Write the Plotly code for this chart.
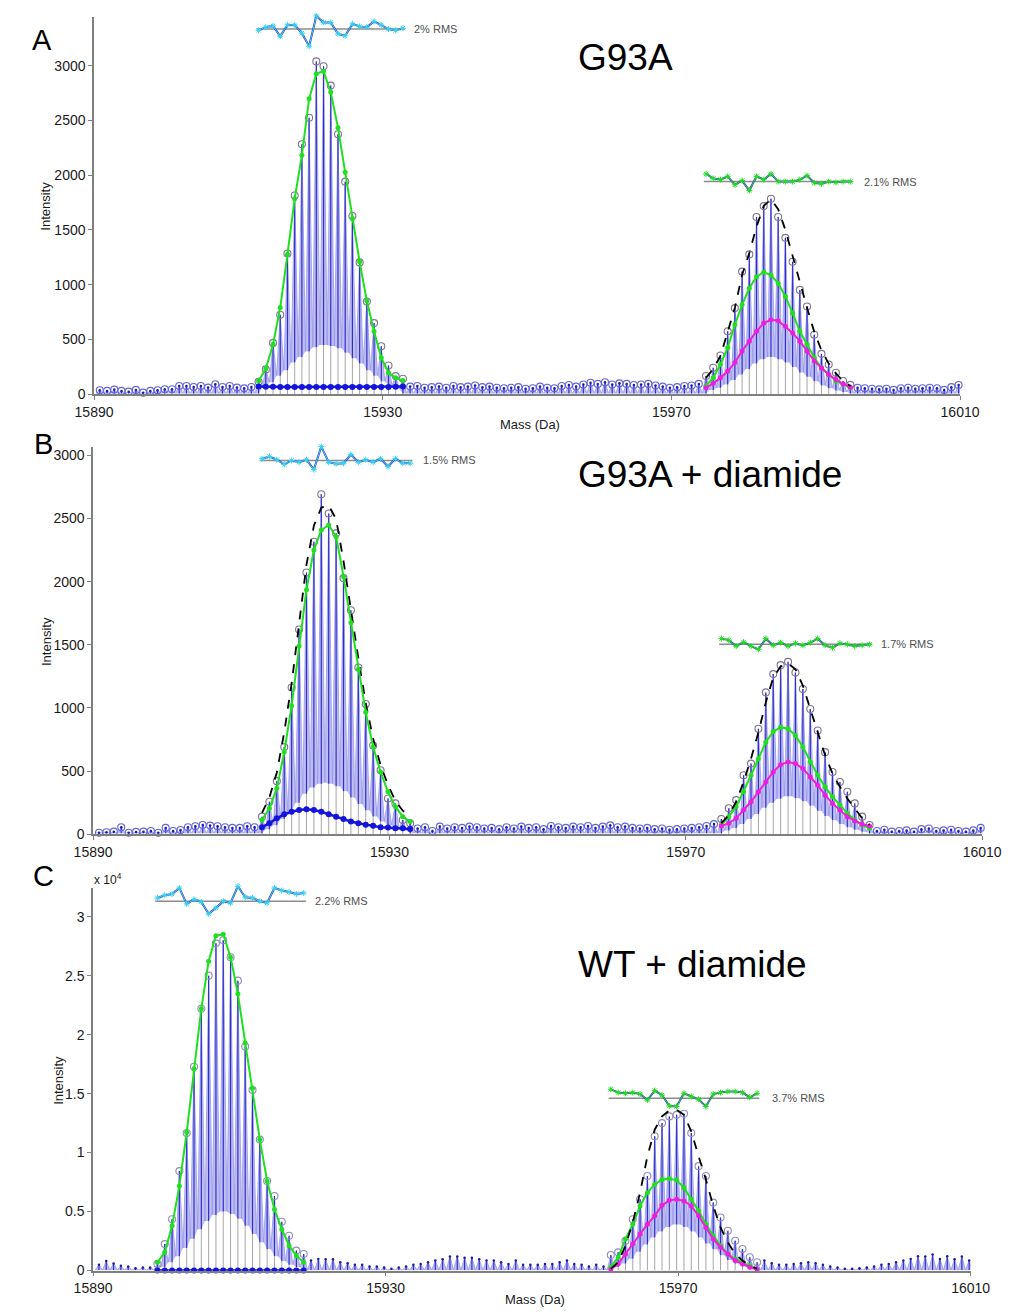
import numpy as np
import plotly.graph_objects as go

W, H = 1032, 1315
FONT = "Liberation Sans, Arial, Helvetica, sans-serif"

# ---------------- shared grid / ticks ----------------
MASS_START = 15890.8          # first isotope peak of the 1-Da grid
X_TICKS = [15890, 15930, 15970, 16010]
AB_Y_TICKS = [0, 500, 1000, 1500, 2000, 2500, 3000]
C_Y_TICKS = [0, 5000, 10000, 15000, 20000, 25000, 30000]
C_Y_TICKTEXT = ["0", "0.5", "1", "1.5", "2", "2.5", "3"]

# ---------------- Panel A : G93A ----------------
A_BASE_LEFT = [37, 31, 43, 31, 24, 40, 15, 31, 37, 46, 46, 76, 76, 67, 76, 61, 91, 67, 76, 61, 54, 67]
A_C1_OBS = [115, 227, 469, 726, 1285, 1814, 2283, 2525, 3039, 2994, 2818, 2374, 1941, 1627, 1204, 847, 650, 438, 263, 166, 142]
A_C1_TROUGH = [60, 110, 170, 220, 290, 340, 390, 430, 450, 450, 440, 420, 380, 330, 280, 220, 170, 120, 80, 50]
A_BASE_MID = [70, 75, 60, 65, 70, 60, 75, 65, 70, 80, 65, 70, 60, 55, 60, 65, 50, 55, 70, 60, 55, 75, 85, 70, 90,
              105, 95, 110, 90, 100, 95, 85, 90, 95, 80, 70, 60, 65, 75, 80, 95]
A_C2_OBS = [167, 242, 354, 575, 787, 1120, 1277, 1619, 1718, 1785, 1619, 1428, 1210, 953, 802, 544, 369, 272, 197, 122, 86]
A_C2_TROUGH = [40, 60, 90, 130, 180, 230, 280, 320, 340, 340, 320, 290, 250, 200, 160, 120, 80, 55, 35, 20]
A_BASE_RIGHT = [60, 55, 50, 45, 50, 40, 55, 60, 50, 55, 60, 55, 40, 65, 85]
A_BASE_TROUGH = 8
A_C1_GREEN = [121, 233, 454, 792, 1276, 1784, 2183, 2697, 2927, 2948, 2757, 2434, 2026, 1603, 1210, 853, 575, 333, 197, 151, 127]
A_C1_BLUE = [70, 68, 68, 67, 67, 67, 67, 67, 67, 67, 67, 67, 67, 67, 67, 67, 67, 67, 67, 68, 70]
A_C2_GREEN = [76, 151, 272, 424, 635, 817, 968, 1074, 1113, 1089, 1013, 893, 741, 575, 454, 333, 242, 181, 122, 91, 61]
A_C2_MAGENTA = [60, 100, 150, 210, 290, 395, 485, 575, 650, 680, 672, 620, 560, 485, 395, 305, 240, 180, 135, 95, 65]
A_C2_TOTAL = [150, 230, 350, 560, 790, 1090, 1290, 1530, 1720, 1780, 1690, 1500, 1260, 1010, 790, 570, 400, 280, 190, 120, 76]
A_C1_RESID = [-0.5, 0.8, 1.3, -2.9, 1.7, 1.7, -1.6, -6.9, 5.3, 2.7, 2.7, -1.9, -2.7, 2.1, 1.1, 0.8, 3.1, 1.7, 0.0, -0.5, 0.4]
A_C2_RESID = [3.1, 1.3, 0.8, 2.1, -1.3, 0.4, -3.6, 2.1, 0.8, 3.1, 0.0, 0.0, 0.0, 0.8, 2.4, -0.5, -0.9, 0.0, -0.3, 0.0, 0.0]

# ---------------- Panel B : G93A + diamide ----------------
B_BASE_LEFT = [12, 15, 20, 55, 12, 18, 20, 25, 12, 50, 25, 33, 55, 63, 73, 68, 63, 55, 50, 50, 63, 55]
B_C1_OBS = [139, 257, 420, 690, 1162, 1622, 2073, 2317, 2693, 2540, 2383, 2028, 1774, 1320, 1031, 703, 506, 283, 244, 113, 87]
B_C1_TROUGH = [40, 70, 120, 180, 250, 320, 370, 400, 410, 400, 380, 340, 290, 240, 190, 140, 100, 70, 45, 30]
B_BASE_MID = [45, 55, 25, 60, 45, 55, 50, 60, 55, 45, 50, 40, 55, 45, 60, 50, 55, 40, 65, 55, 50, 60, 55, 65, 50,
              60, 70, 55, 60, 50, 45, 50, 40, 45, 35, 40, 45, 50, 55, 65, 80]
B_C2_OBS = [120, 205, 270, 467, 559, 835, 1123, 1268, 1339, 1365, 1280, 1150, 992, 821, 650, 493, 414, 336, 244, 139, 73]
B_C2_TROUGH = [30, 50, 80, 120, 160, 210, 250, 280, 300, 300, 285, 260, 225, 185, 145, 110, 80, 55, 35, 20]
B_BASE_RIGHT = [25, 35, 20, 25, 30, 20, 40, 45, 25, 30, 35, 25, 20, 30, 50]
B_BASE_TROUGH = 8
B_C1_GREEN = [113, 205, 363, 651, 1018, 1491, 1937, 2252, 2409, 2449, 2357, 2042, 1674, 1307, 966, 690, 493, 336, 218, 139, 100]
B_C1_BLUE = [55, 87, 126, 157, 178, 191, 197, 191, 178, 157, 139, 121, 100, 87, 74, 66, 55, 53, 47, 47, 42]
B_C1_TOTAL = [168, 292, 489, 808, 1196, 1682, 2134, 2443, 2587, 2606, 2496, 2163, 1774, 1394, 1040, 756, 548, 389, 265, 186, 142]
B_C2_GREEN = [73, 139, 218, 336, 467, 598, 729, 813, 847, 835, 782, 690, 572, 467, 375, 296, 231, 165, 113, 73, 47]
B_C2_MAGENTA = [65, 87, 126, 191, 257, 336, 414, 493, 551, 572, 559, 520, 454, 388, 309, 244, 191, 139, 105, 79, 65]
B_C2_TOTAL = [87, 152, 257, 414, 598, 808, 1044, 1241, 1328, 1354, 1307, 1176, 992, 808, 625, 480, 375, 283, 205, 126, 73]
B_C1_RESID = [0.7, 1.6, 0.3, -1.6, 0.0, -0.7, 0.3, -3.7, 5.6, -0.7, -1.3, -1.1, 2.4, -0.7, 0.3, -0.7, 0.7, -2.4, 0.7, -1.1, -1.1]
B_C2_RESID = [2.3, 1.7, -0.7, 0.9, -0.7, -2.0, 2.3, -0.4, 0.7, -0.7, 0.4, -0.4, 0.7, 2.3, -0.4, -1.3, 0.4, 0.0, -0.7, -0.4, 0.0]

# ---------------- Panel C : WT + diamide ----------------
C_BASE_LEFT = [500, 800, 600, 400, 350, 200, 250, 250]
C_C1_OBS = [560, 2240, 4350, 8430, 11660, 17280, 22200, 25000, 27740, 28000, 26560, 24580, 19000, 15310, 11100,
            7590, 6320, 4130, 2950, 1690, 1400]
C_C1_TROUGH = [300, 700, 1200, 1900, 2700, 3500, 4200, 4700, 5000, 5000, 4800, 4400, 3800, 3100, 2400, 1800, 1200, 800, 500, 300]
C_BASE_MID = [840, 980, 950, 950, 700, 620, 490, 490, 340, 340, 250, 150, 250, 340, 490, 560, 700, 840, 950, 1180,
              1180, 1090, 1090, 950, 840, 840, 700, 560, 840, 490, 490, 490, 560, 560, 700, 840, 560, 490, 340, 490, 340]
C_C2_OBS = [1320, 1540, 2530, 4350, 6040, 8010, 11380, 12500, 13070, 13200, 13290, 11660, 8850, 8010, 5760, 4490,
            3370, 2530, 1820, 1120, 700]
C_C2_TROUGH = [300, 600, 1000, 1600, 2200, 2800, 3300, 3700, 3900, 3900, 3700, 3300, 2800, 2300, 1800, 1300, 900, 600, 350, 200]
C_BASE_RIGHT = [840, 620, 490, 490, 560, 620, 700, 620, 490, 340, 250, 150, 150, 200, 250, 340, 490, 560, 700, 840,
                980, 1200, 1180, 1350, 980, 1200, 950, 1180, 840]
C_BASE_TROUGH = 40
C_C1_GREEN = [700, 1540, 3790, 7170, 11720, 17110, 22200, 26220, 28380, 28520, 26560, 23460, 19300, 15450, 11100,
              7590, 5200, 3510, 2110, 1260, 700]
C_C1_BLUE = [0, 0, 0, 0, 0, 0, 0, 0, 0, 0, 0, 0, 0, 0, 0, 0, 0, 0, 0, 0, 0]
C_C2_GREEN = [280, 1120, 2670, 3930, 5480, 6600, 7300, 7720, 7780, 7670, 7020, 6040, 5060, 3930, 2950, 2110, 1400, 980, 700, 420, 84]
C_C2_MAGENTA = [84, 560, 1400, 2240, 3090, 3930, 4640, 5530, 5950, 6040, 5900, 5480, 4640, 3650, 2670, 1970, 1400, 840, 560, 280, 84]
C_C2_TOTAL = [140, 700, 2110, 4070, 6600, 9690, 11940, 13070, 13570, 13630, 13200, 11800, 9690, 7720, 5480, 3650,
              2390, 1400, 840, 420, 140]
C_C1_RESID = [1.3, 2.4, 2.9, 5.3, -1.1, 0.7, -0.3, -5.1, -2.7, 0.0, -0.7, 6.0, 1.6, 1.3, 0.0, -0.7, 5.3, 4.3, 3.7, 2.9, 3.3]
C_C2_RESID = [3.6, 2.3, 2.0, 2.3, 1.7, -0.7, 3.1, 1.3, -3.1, -3.3, 2.0, 0.7, -0.4, -3.3, 1.7, 2.3, 2.7, 2.7, 2.3, 0.4, 2.0]

# ---------------- colours ----------------
LAV = "rgba(150,150,238,0.62)"
LAV_LINE = "#9696ea"
DARK = "#3030c8"
STEM = "#a6a6a6"
GREEN = "#1fe01f"
MAGENTA = "#ee1fdc"
BLUEC = "#1414dc"
CYAN = "#38d4f0"
BASE_CIRC = "#6464dc"
CLEAR = "rgba(0,0,0,0)"


def px2x(p):
    return p / W


def px2y(p):
    return 1 - p / H


fig = go.Figure()


def add_panel(xa, ya, left, c1, c1t, mid, c2, c2t, right, bt, base_circles, clus_color,
              fits1, fits2):
    peaks = left + c1 + mid + c2 + right
    n = len(peaks)
    masses = MASS_START + np.arange(n)
    s1 = len(left)
    e1 = s1 + len(c1)
    s2 = e1 + len(mid)
    e2 = s2 + len(c2)
    troughs = ([bt] * len(left) + c1t + [bt] + [bt] * len(mid) + c2t + [bt] + [bt] * len(right))
    # zig-zag spectrum
    zx, zy = [masses[0] - 0.5], [bt]
    for m, p, t in zip(masses, peaks, troughs):
        zx += [m, m + 0.5]
        zy += [p, t]
    prev = [bt] + troughs[:-1]
    floor = [min(a, b) for a, b in zip(prev, troughs)]
    fx, fy = [masses[0] - 0.5], [bt]
    for m, f, t in zip(masses, floor, troughs):
        fx += [m, m + 0.5]
        fy += [f, t]
    common = dict(xaxis=xa, yaxis=ya, hoverinfo="skip", showlegend=False)
    fig.add_trace(go.Scatter(x=zx, y=zy, mode="lines", fill="tozeroy", fillcolor=LAV,
                             line=dict(color=LAV_LINE, width=0.8), **common))
    fig.add_trace(go.Scatter(x=fx, y=fy, mode="lines", fill="tozeroy", fillcolor="white",
                             line=dict(color="white", width=0), **common))
    # grey stems inside clusters, dark sticks everywhere
    sx, sy, dx, dy = [], [], [], []
    for i in list(range(s1, e1)) + list(range(s2, e2)):
        sx += [masses[i], masses[i], None]
        sy += [0, floor[i], None]
    for i in range(n):
        dx += [masses[i], masses[i], None]
        dy += [floor[i], peaks[i], None]
    fig.add_trace(go.Scatter(x=sx, y=sy, mode="lines", line=dict(color=STEM, width=1), **common))
    fig.add_trace(go.Scatter(x=dx, y=dy, mode="lines", line=dict(color=DARK, width=1.2), **common))
    # markers
    base_idx = list(range(0, s1)) + list(range(e1, s2)) + list(range(e2, n))
    bx = [masses[i] for i in base_idx]
    by = [peaks[i] for i in base_idx]
    if base_circles:
        fig.add_trace(go.Scatter(x=bx, y=by, mode="markers", cliponaxis=False,
                                 marker=dict(symbol="circle-open", size=7, color=BASE_CIRC,
                                             line=dict(width=1.1, color=BASE_CIRC)), **common))
    fig.add_trace(go.Scatter(x=bx, y=by, mode="markers", cliponaxis=False,
                             marker=dict(symbol="circle", size=2.5, color="#1a1aa8"), **common))
    cidx = list(range(s1, e1)) + list(range(s2, e2))
    fig.add_trace(go.Scatter(x=[masses[i] for i in cidx], y=[peaks[i] for i in cidx], mode="markers",
                             cliponaxis=False,
                             marker=dict(symbol="circle-open", size=7, color=clus_color,
                                         line=dict(width=1.1, color=clus_color)), **common))
    # fitted components
    for start, fits in ((s1, fits1), (s2, fits2)):
        mx = masses[start:start + 21]
        for kind, vals in fits:
            if kind == "blue":
                fig.add_trace(go.Scatter(x=mx, y=vals, mode="lines+markers", cliponaxis=False,
                                         line=dict(color=BLUEC, width=2.5),
                                         marker=dict(size=6, color=BLUEC), **common))
            elif kind == "green":
                fig.add_trace(go.Scatter(x=mx, y=vals, mode="lines+markers", cliponaxis=False,
                                         line=dict(color=GREEN, width=2),
                                         marker=dict(size=5, color=GREEN), **common))
            elif kind == "magenta":
                fig.add_trace(go.Scatter(x=mx, y=vals, mode="lines+markers", cliponaxis=False,
                                         line=dict(color=MAGENTA, width=2),
                                         marker=dict(size=5, color=MAGENTA), **common))
            elif kind == "total":
                fig.add_trace(go.Scatter(x=mx, y=vals, mode="lines", cliponaxis=False,
                                         line=dict(color="black", width=1.8, dash="dash"), **common))
    return masses, (s1, s2)


def add_inset(xa, ya, masses, start, resid, mcolor, label, xshift):
    mx = masses[start:start + len(resid)]
    common = dict(xaxis=xa, yaxis=ya, hoverinfo="skip", showlegend=False)
    fig.add_trace(go.Scatter(x=[mx[0] - 0.3, mx[-1] + 0.3], y=[0, 0], mode="lines",
                             line=dict(color="#8c8c8c", width=1.5), **common))
    fig.add_trace(go.Scatter(x=mx, y=resid, mode="lines", line=dict(color="#3c3cc0", width=2), **common))
    fig.add_trace(go.Scatter(x=mx, y=resid, mode="lines+markers", cliponaxis=False,
                             line=dict(color=mcolor, width=1),
                             marker=dict(symbol="asterisk-open", size=5, color=mcolor,
                                         line=dict(width=1, color=mcolor)), **common))
    fig.add_annotation(x=mx[-1], y=0, xref=xa, yref=ya, text=label,
                       showarrow=False, xanchor="left", yanchor="middle", xshift=xshift,
                       font=dict(family=FONT, size=11, color="#505050"))


mA, (a1, a2) = add_panel("x", "y", A_BASE_LEFT, A_C1_OBS, A_C1_TROUGH, A_BASE_MID, A_C2_OBS, A_C2_TROUGH,
                         A_BASE_RIGHT, A_BASE_TROUGH, True, "#7e7494",
                         [("blue", A_C1_BLUE), ("green", A_C1_GREEN)],
                         [("green", A_C2_GREEN), ("magenta", A_C2_MAGENTA), ("total", A_C2_TOTAL)])
mB, (b1, b2) = add_panel("x2", "y2", B_BASE_LEFT, B_C1_OBS, B_C1_TROUGH, B_BASE_MID, B_C2_OBS, B_C2_TROUGH,
                         B_BASE_RIGHT, B_BASE_TROUGH, True, "#7e7494",
                         [("blue", B_C1_BLUE), ("total", B_C1_TOTAL), ("green", B_C1_GREEN)],
                         [("green", B_C2_GREEN), ("magenta", B_C2_MAGENTA), ("total", B_C2_TOTAL)])
mC, (c1, c2) = add_panel("x3", "y3", C_BASE_LEFT, C_C1_OBS, C_C1_TROUGH, C_BASE_MID, C_C2_OBS, C_C2_TROUGH,
                         C_BASE_RIGHT, C_BASE_TROUGH, False, "#948cbc",
                         [("blue", C_C1_BLUE), ("green", C_C1_GREEN)],
                         [("green", C_C2_GREEN), ("magenta", C_C2_MAGENTA), ("total", C_C2_TOTAL)])

add_inset("x", "y4", mA, a1, A_C1_RESID, CYAN, "2% RMS", 9)
add_inset("x", "y5", mA, a2, A_C2_RESID, GREEN, "2.1% RMS", 12)
add_inset("x2", "y6", mB, b1, B_C1_RESID, CYAN, "1.5% RMS", 11)
add_inset("x2", "y7", mB, b2, B_C2_RESID, GREEN, "1.7% RMS", 9)
add_inset("x3", "y8", mC, c1, C_C1_RESID, CYAN, "2.2% RMS", 9)
add_inset("x3", "y9", mC, c2, C_C2_RESID, GREEN, "3.7% RMS", 13)

axis_style = dict(showline=True, linecolor="#7f7f7f", linewidth=1.5, ticks="outside", ticklen=4,
                  tickcolor="#7f7f7f", showgrid=False, zeroline=False,
                  tickfont=dict(family=FONT, size=14, color="#1a1a1a"), fixedrange=True)

layout = dict(width=W, height=H, margin=dict(l=0, r=0, t=0, b=0), paper_bgcolor="white",
              plot_bgcolor=CLEAR, showlegend=False, font=dict(family=FONT))

# panel geometry (pixel positions of plot areas)
panels = [  # (xaxis, yaxis, left px, right px, top px, bottom px, ymax)
    ("xaxis", "yaxis", 78, 978, 17, 396.7, 3445),
    ("xaxis2", "yaxis2", 77, 1001, 450, 839.3, 3065),
    ("xaxis3", "yaxis3", 77, 989, 893, 1278.3, 32470),
]
for k, (xn, yn, l, r, t, b, ymax) in enumerate(panels):
    xs = xn.replace("axis", "")
    ys = yn.replace("axis", "")
    layout[xn] = dict(domain=[px2x(l), px2x(r)], range=[15890, 16010], anchor=ys,
                      tickvals=X_TICKS, ticktext=[str(v) for v in X_TICKS], **axis_style)
    yd = dict(domain=[px2y(b), px2y(t)], range=[0, ymax], anchor=xs, **axis_style)
    if k < 2:
        yd.update(tickvals=AB_Y_TICKS, ticktext=[str(v) for v in AB_Y_TICKS])
    else:
        yd.update(tickvals=C_Y_TICKS, ticktext=C_Y_TICKTEXT)
    layout[yn] = yd

insets = [("yaxis4", "x", 29.3), ("yaxis5", "x", 182.7), ("yaxis6", "x2", 463.3),
          ("yaxis7", "x2", 648.3), ("yaxis8", "x3", 906.7), ("yaxis9", "x3", 1105)]
for yn, xa, yb in insets:
    layout[yn] = dict(domain=[px2y(yb + 25), px2y(yb - 25)], range=[-10, 10], anchor=xa,
                      visible=False, fixedrange=True)

fig.update_layout(**layout)


def ann(text, xpx, ypx, size, xanchor="left", angle=0, color="black"):
    fig.add_annotation(x=px2x(xpx), y=px2y(ypx), xref="paper", yref="paper", text=text,
                       showarrow=False, xanchor=xanchor, yanchor="middle", textangle=angle,
                       font=dict(family=FONT, size=size, color=color))


ann("A", 11, 40, 29)
ann("B", 14, 447, 29)
ann("C", 12, 881, 29)
ann("G93A", 579, 57.5, 37)
ann("G93A + diamide", 579, 477.5, 37)
ann("WT + diamide", 579, 970, 37)
ann("Intensity", 28, 207, 13, xanchor="center", angle=-90, color="#1a1a1a")
ann("Intensity", 28, 645, 13, xanchor="center", angle=-90, color="#1a1a1a")
ann("Intensity", 41, 1087, 13, xanchor="center", angle=-90, color="#1a1a1a")
ann("Mass (Da)", 531, 427, 13, xanchor="center", color="#1a1a1a")
ann("Mass (Da)", 536, 1307, 13, xanchor="center", color="#1a1a1a")
ann("x 10<sup>4</sup>", 76, 884, 12, color="#1a1a1a")

fig.write_html("out.html")
